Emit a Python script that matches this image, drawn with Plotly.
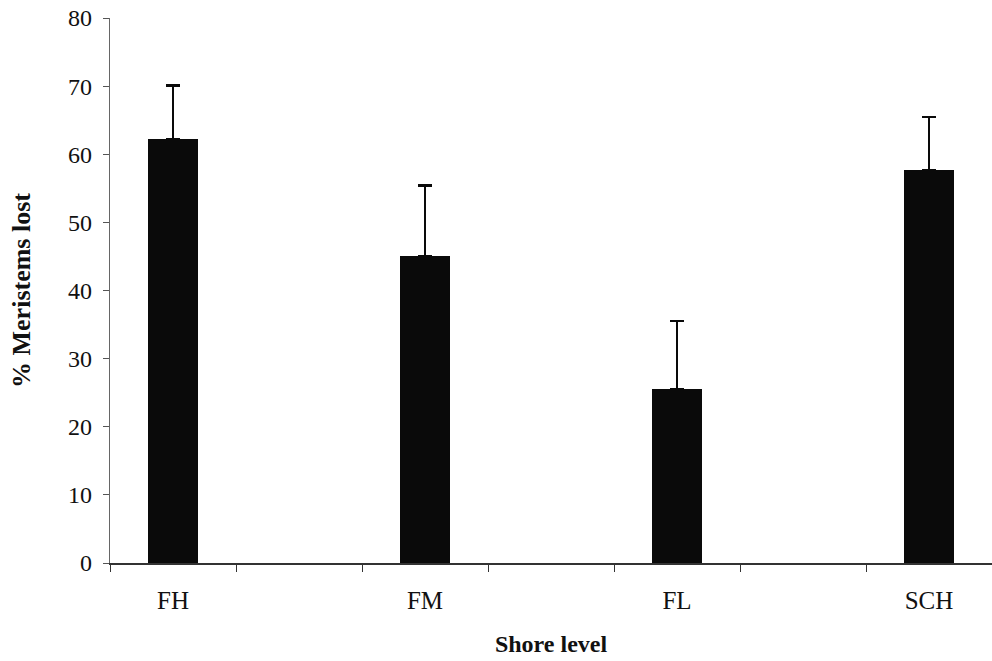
import plotly.graph_objects as go

categories = ["FH", "FM", "FL", "SCH"]
meristems_lost = [62.2, 45.1, 25.6, 57.7]
error_upper = [7.9, 10.3, 9.9, 7.8]
y_ticks = [0, 10, 20, 30, 40, 50, 60, 70, 80]

x_pos = [i * 2 for i in range(len(categories))]

fig = go.Figure()
fig.add_trace(go.Bar(
    x=x_pos,
    y=meristems_lost,
    width=0.4,
    marker=dict(color="#0a0a0a", line=dict(width=0)),
    error_y=dict(type="data", symmetric=False, array=error_upper,
                 arrayminus=[0] * len(categories),
                 color="#0a0a0a", thickness=2.2, width=7),
    showlegend=False,
))

font_family = "Liberation Serif, Times New Roman, serif"

fig.update_layout(
    width=992, height=661,
    margin=dict(l=110, r=0, t=18, b=98),
    paper_bgcolor="white", plot_bgcolor="white",
    font=dict(family=font_family, color="#111111", size=22),
    bargap=0,
)
fig.update_xaxes(
    range=[-0.5, 6.5],
    tickvals=x_pos, ticktext=categories,
    ticks="", tickfont=dict(size=25, family=font_family),
    ticklabelstandoff=14,
    showline=True, linecolor="#333333", linewidth=1.5,
    showgrid=False, zeroline=False,
    minor=dict(tick0=-0.5, dtick=1, ticks="outside", ticklen=7,
               tickcolor="#333333", tickwidth=1, showgrid=False),
    title=dict(text="<b>Shore level</b>", font=dict(size=24, family=font_family), standoff=22),
)
fig.update_yaxes(
    range=[0, 80],
    tickvals=y_ticks,
    ticks="outside", ticklen=6, tickcolor="#555555", tickwidth=1,
    tickfont=dict(size=24, family=font_family),
    ticklabelstandoff=6,
    showline=True, linecolor="#666666", linewidth=1.2,
    showgrid=False, zeroline=False,
    title=dict(text="<b>% Meristems lost</b>", font=dict(size=26, family=font_family), standoff=29),
)

fig.write_html("out.html")
